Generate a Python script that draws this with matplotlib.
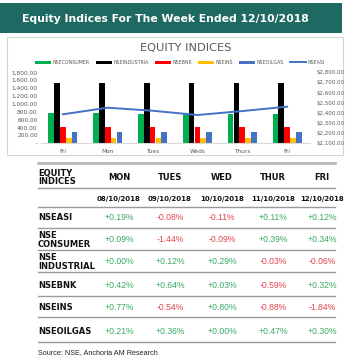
import matplotlib
matplotlib.use("Agg")
import matplotlib.pyplot as plt
import numpy as np
from matplotlib.patches import Rectangle
from matplotlib.lines import Line2D

W, H = 346, 360

# ---------------- data ----------------
days_chart = ["Fri", "Mon", "Tues", "Weds", "Thurs", "Fri"]
nse_consumer = [760, 760, 745, 750, 748, 745]
nse_industrial = [1535, 1535, 1535, 1535, 1535, 1535]
nse_bnk = [418, 418, 422, 420, 418, 420]
nse_ins = [135, 135, 135, 135, 135, 135]
nse_oilgas = [295, 295, 295, 295, 295, 295]
nse_asi = [2386, 2451, 2421, 2379, 2418, 2461]

table_days = ["MON", "TUES", "WED", "THUR", "FRI"]
table_dates = ["08/10/2018", "09/10/2018", "10/10/2018", "11/10/2018", "12/10/2018"]
row_labels = ["NSEASI", "NSE\nCONSUMER", "NSE\nINDUSTRIAL", "NSEBNK", "NSEINS", "NSEOILGAS"]
chg_nseasi = [0.19, -0.08, -0.11, 0.11, 0.12]
chg_consumer = [0.09, -1.44, -0.09, 0.39, 0.34]
chg_industrial = [0.00, 0.12, 0.29, -0.03, -0.06]
chg_bnk = [0.42, 0.64, 0.03, -0.59, 0.32]
chg_ins = [0.77, -0.54, 0.80, -0.88, -1.84]
chg_oilgas = [0.21, 0.36, 0.00, 0.47, 0.30]

fig = plt.figure(figsize=(W / 100, H / 100), dpi=100)
fig.patch.set_facecolor("white")


def fx(x):
    return x / W


def fy(y):
    return 1 - y / H


# ---------------- header band ----------------
fig.patches.append(Rectangle((fx(0), fy(33)), fx(342), 30 / H, transform=fig.transFigure,
                             facecolor="#1e6a62", edgecolor="none", zorder=-5))
fig.text(fx(22), fy(18.5), "Equity Indices For The Week Ended 12/10/2018", color="white",
         fontsize=7.8, fontweight="bold", ha="left", va="center", family="DejaVu Sans")

# chart box
box = Rectangle((fx(7), fy(155)), fx(336), 118 / H, transform=fig.transFigure,
                facecolor="white", edgecolor="#d6d6d6", lw=0.8, zorder=-5)
fig.patches.append(box)

fig.text(fx(186), fy(48), "EQUITY INDICES", color="#595959", fontsize=8.2,
         ha="center", va="center", family="DejaVu Sans")

# ---------------- chart ----------------
ax = fig.add_axes([fx(40.5), fy(143.3), (309.5 - 40.5) / W, 71 / H])
ax.patch.set_alpha(0)
x = np.arange(len(days_chart))
bw = 0.13
series = [
    ("NSECONSUMER", nse_consumer, "#00b050"),
    ("NSEINDUSTRIA", nse_industrial, "#000000"),
    ("NSEBNK", nse_bnk, "#ff0000"),
    ("NSEINS", nse_ins, "#ffc000"),
    ("NSEOILGAS", nse_oilgas, "#4472c4"),
]
handles = []
for i, (name, vals, col) in enumerate(series):
    b = ax.bar(x + (i - 2) * bw, vals, width=bw * 0.95, color=col, label=name, zorder=2)
    handles.append(b)
ax.set_xlim(-0.5, len(days_chart) - 0.5)
ax.set_ylim(0, 1800)
ax.set_yticks(np.arange(0, 1801, 200))
ax.set_yticklabels(["-"] + [f"{v:,.2f}" for v in range(200, 1801, 200)])
ax.set_xticks(x)
ax.set_xticklabels(days_chart)
for s in ["top", "right", "left"]:
    ax.spines[s].set_visible(False)
ax.spines["bottom"].set_color("#d9d9d9")
ax.spines["bottom"].set_linewidth(0.8)
ax.tick_params(axis="both", length=0, labelsize=4.2, colors="#595959", pad=2)
ax.tick_params(axis="x", pad=4)

ax2 = ax.twinx()
ln, = ax2.plot(x, nse_asi, color="#4472c4", lw=1.4, label="NSEASI", zorder=3)
ax2.set_ylim(2100, 2800)
ax2.set_yticks(np.arange(2100, 2801, 100))
ax2.set_yticklabels([f"\\${v:,.2f}" for v in range(2100, 2801, 100)])
for s in ["top", "right", "left", "bottom"]:
    ax2.spines[s].set_visible(False)
ax2.tick_params(axis="y", length=0, labelsize=4.0, colors="#595959", pad=5)

leg = fig.legend(handles + [ln], [s[0] for s in series] + ["NSEASI"], loc="center",
                 bbox_to_anchor=(fx(180), fy(62.5)), ncol=6, fontsize=3.4, frameon=False,
                 handlelength=3.4, handleheight=0.7, handletextpad=0.3, columnspacing=1.3,
                 labelcolor="#595959")

# ---------------- table ----------------
grey = "#9a9a9a"


def hline(y, lw=1.0, col=grey, x0=38, x1=335):
    fig.add_artist(Line2D([fx(x0), fx(x1)], [fy(y), fy(y)], transform=fig.transFigure,
                          color=col, lw=lw))


hline(163, lw=2.0, col="#b8b8b8")
hline(188)
hline(207)
hline(228)
hline(250)
hline(272)
hline(296)
hline(317)
hline(342)

bold_kw = dict(fontweight="bold", color="#111111", family="DejaVu Sans")
fig.text(fx(38), fy(177.5), "EQUITY\nINDICES", fontsize=6.0, ha="left", va="center",
         linespacing=0.95, **bold_kw)
col_x = [119, 170, 222, 273, 322]
for cx, d in zip(col_x, table_days):
    fig.text(fx(cx), fy(177), d, fontsize=6.0, ha="center", va="center", **bold_kw)
for cx, d in zip(col_x, table_dates):
    fig.text(fx(cx), fy(199), d, fontsize=5.0, ha="center", va="center", **bold_kw)

rows = [chg_nseasi, chg_consumer, chg_industrial, chg_bnk, chg_ins, chg_oilgas]
row_y = [218, 240, 262, 286, 307, 331]
for lab, vals, ry in zip(row_labels, rows, row_y):
    fig.text(fx(38), fy(ry), lab, fontsize=6.0, ha="left", va="center",
             linespacing=0.95, **bold_kw)
    for cx, v in zip(col_x, vals):
        col = "#3aa864" if v >= 0 else "#e0434f"
        fig.text(fx(cx), fy(ry), f"{v:+.2f}%", fontsize=6.2, ha="center", va="center",
                 color=col, family="Liberation Sans")

fig.text(fx(38), fy(353), "Source: NSE, Anchoria AM Research", fontsize=5.2, ha="left",
         va="center", color="#222222", family="Liberation Sans")

fig.savefig("out.png", dpi=100)
